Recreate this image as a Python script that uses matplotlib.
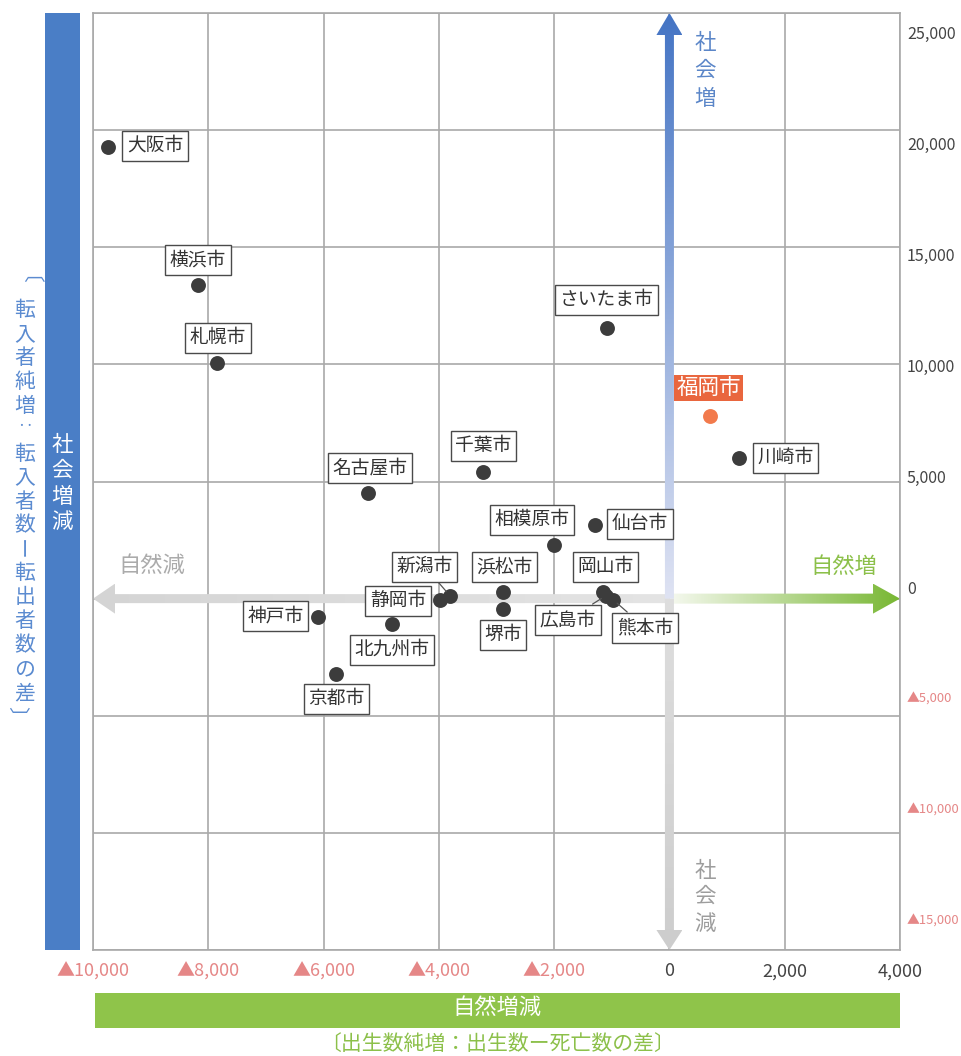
import numpy as np
import matplotlib
matplotlib.use("Agg")
import matplotlib.pyplot as plt
from matplotlib.patches import Polygon, Rectangle
from matplotlib.colors import to_rgb

plt.rcParams['font.family'] = ['Noto Sans CJK JP', 'DejaVu Sans']

# ---- data -------------------------------------------------------------
cities = ['大阪市', '横浜市', '札幌市', 'さいたま市', '名古屋市', '千葉市',
          '相模原市', '仙台市', '新潟市', '浜松市', '静岡市', '堺市',
          '北九州市', '京都市', '神戸市', '岡山市', '広島市', '熊本市',
          '福岡市', '川崎市']
natural_change = [-9740, -8180, -7850, -1080, -5230, -3230,
                  -2000, -1290, -3810, -2890, -3980, -2890,
                  -4810, -5780, -6100, -1150, -1100, -980,
                  700, 1210]
social_change = [19300, 13400, 10070, 11560, 4520, 5420,
                 2300, 3160, 130, 300, -40, -430,
                 -1070, -3200, -770, 300, 130, -40,
                 7810, 6020]
highlight = '福岡市'

x_ticks = [-10000, -8000, -6000, -4000, -2000, 0, 2000, 4000]
y_ticks = [-15000, -10000, -5000, 0, 5000, 10000, 15000, 20000, 25000]

# label placement: offset of each label box from its dot, in pixels (right, up)
label_offsets = {
    '大阪市': (47, 1), '横浜市': (0, 25), '札幌市': (1, 25),
    'さいたま市': (-1, 28), '名古屋市': (2, 25), '千葉市': (0, 26),
    '相模原市': (-22, 25), '仙台市': (45, 1), '新潟市': (-25, 29),
    '浜松市': (2, 25), '静岡市': (-42, -1), '堺市': (0, -26),
    '北九州市': (0, -26), '京都市': (0, -25), '神戸市': (-42, 1),
    '岡山市': (2, 25), '広島市': (-38, -24), '熊本市': (32, -28),
    '福岡市': (-1, 28), '川崎市': (46, 0),
}
leader_cities = {'新潟市', '広島市', '熊本市'}


def tick_text(v):
    return '0' if v == 0 else ('▲{:,}'.format(-v) if v < 0 else '{:,}'.format(v))


# ---- figure / axes ----------------------------------------------------
W, H = 961, 1056
fig = plt.figure(figsize=(W / 100, H / 100), dpi=100)
L, R, T, B = 93, 900, 13, 950
ax = fig.add_axes([L / W, 1 - B / H, (R - L) / W, (B - T) / H])
ax.set_xlim(x_ticks[0], x_ticks[-1])
ax.set_ylim(y_ticks[0], y_ticks[-1])

# pixel-space layer for the decorations around the plot (y grows downward)
deco = fig.add_axes([0, 0, 1, 1], zorder=-5)
deco.set_xlim(0, W)
deco.set_ylim(H, 0)
deco.axis('off')

GRID = '#a9a9a9'
ax.set_xticks(x_ticks)
ax.set_xticklabels([tick_text(v) for v in x_ticks])
ax.set_yticks(y_ticks)
ax.grid(True, color=GRID, lw=1.2)
ax.set_axisbelow(True)
ax.tick_params(axis='x', length=0, pad=9, labelsize=13)
ax.tick_params(axis='y', length=0, labelleft=False)
for lbl, v in zip(ax.get_xticklabels(), x_ticks):
    lbl.set_color('#e58787' if v < 0 else '#444444')
for s in ax.spines.values():
    s.set_color(GRID)
    s.set_linewidth(1.2)

# right-hand value scale
ax2 = ax.twinx()
ax2.set_ylim(-16350, 25860)
ax2.set_yticks(y_ticks)
ax2.set_yticklabels([tick_text(v) for v in y_ticks])
ax2.tick_params(axis='y', length=0, pad=5, labelsize=11.5)
for lbl, v in zip(ax2.get_yticklabels(), y_ticks):
    if v < 0:
        lbl.set_color('#e58787')
        lbl.set_fontsize(9.3)
    else:
        lbl.set_color('#444444')
for s in ax2.spines.values():
    s.set_visible(False)


def data_to_px(x, y):
    d = ax.transData.transform((x, y))
    return np.array([d[0], H - d[1]])


def px_to_data(pts):
    pts = np.asarray(pts, dtype=float)
    disp = np.column_stack([pts[:, 0], H - pts[:, 1]])
    return ax.transData.inverted().transform(disp)


def gradient_arrow(tail_d, tip_d, sw, hw, hl, c0, c1, z):
    tail = data_to_px(*tail_d)
    tip = data_to_px(*tip_d)
    vec = tip - tail
    length = np.hypot(*vec)
    u = vec / length
    n = np.array([-u[1], u[0]])
    neck = tip - u * hl
    pts = np.array([tail + n * sw / 2, neck + n * sw / 2, neck + n * hw / 2, tip,
                    neck - n * hw / 2, neck - n * sw / 2, tail - n * sw / 2])
    poly = Polygon(px_to_data(pts), closed=True, transform=ax.transData,
                   fc='none', ec='none')
    xmin, xmax = pts[:, 0].min(), pts[:, 0].max()
    ymin, ymax = pts[:, 1].min(), pts[:, 1].max()
    nx = max(int(xmax - xmin), 2)
    ny = max(int(ymax - ymin), 2)
    gx = np.linspace(xmin, xmax, nx)
    gy = np.linspace(ymax, ymin, ny)
    GX, GY = np.meshgrid(gx, gy)
    t = np.clip(((GX - tail[0]) * u[0] + (GY - tail[1]) * u[1]) / length, 0, 1)
    a, b = np.array(to_rgb(c0)), np.array(to_rgb(c1))
    img = a[None, None, :] * (1 - t[..., None]) + b[None, None, :] * t[..., None]
    (x0, y0), (x1, y1) = px_to_data([[xmin, ymax], [xmax, ymin]])
    im = ax.imshow(img, extent=(x0, x1, y0, y1), origin='lower', aspect='auto',
                   zorder=z, interpolation='bilinear')
    im.set_clip_path(poly)


# quadrant arrows through the origin
gradient_arrow((0, 0), (x_ticks[0], 0), 9, 30, 22, '#e4e4e4', '#d4d4d4', 1.0)
gradient_arrow((0, 0), (x_ticks[-1], 0), 10, 30, 27, '#f6f9f0', '#78b733', 1.1)
gradient_arrow((0, 0), (0, y_ticks[0]), 9, 26, 20, '#dedede', '#cdcdcd', 1.2)
gradient_arrow((0, 0), (0, y_ticks[-1]), 9, 26, 22, '#dfe3f3', '#4474c4', 1.3)
ax.set_xlim(x_ticks[0], x_ticks[-1])
ax.set_ylim(y_ticks[0], y_ticks[-1])


def ptext(x, y, s, **kw):
    ax.text(x, y, s, transform=deco.transData, ha='center', va='center',
            clip_on=False, zorder=2, **kw)


# vertical-writing forms: glyph drawn, rotation, pixel nudge (dx, dy), size scale
VERTICAL_FORMS = {
    '〔': ('〔', -90, -8, 0, 1.0),
    '〕': ('〕', -90, -9, 0, 1.0),
    '：': ('‥', 0, 0, -3, 0.75),
    'ー': ('ー', -90, -5, 0, 1.0),
}


def vtext(target, x, ys, chars, fontsize, **kw):
    # one character per line
    for y, c in zip(ys, chars):
        g, rot, dx, dy, sc = VERTICAL_FORMS.get(c, (c, 0, 0, 0, 1.0))
        if target is ax:
            ptext(x + dx, y + dy, g, rotation=rot, fontsize=fontsize * sc, **kw)
        else:
            deco.text(x + dx, y + dy, g, ha='center', va='center',
                      rotation=rot, fontsize=fontsize * sc, **kw)


vtext(ax, 705, [43, 71, 99], '社会増', 15.5, color='#5b86c8')
vtext(ax, 705, [871, 897, 924], '社会減', 15.5, color='#9d9d9d')
ptext(152, 565, '自然減', fontsize=16, color='#ababab')
ptext(844, 566, '自然増', fontsize=16, color='#8cc04a')

# ---- points and labels --------------------------------------------------
for name, xv, yv in zip(cities, natural_change, social_change):
    hl = name == highlight
    ax.scatter([xv], [yv], s=115, color='#f27a4c' if hl else '#3c3c3c',
               zorder=3, linewidths=0)
    dx, dy = label_offsets[name]
    if hl:
        box = dict(boxstyle='square,pad=0.1', fc='#e9663e', ec='none')
        kw = dict(fontsize=15.5, color='white')
    else:
        box = dict(boxstyle='square,pad=0.24', fc='white', ec='#4a4a4a', lw=1.0)
        kw = dict(fontsize=13.5, color='#333333')
    arrow = None
    if name in leader_cities:
        arrow = dict(arrowstyle='-', color='#555555', lw=0.9,
                     shrinkA=0, shrinkB=4)
    ax.annotate(name, xy=(xv, yv), xytext=(dx * 0.72, dy * 0.72),
                textcoords='offset points', ha='center', va='center',
                bbox=box, arrowprops=arrow, zorder=4, **kw)

# ---- side and bottom headings ------------------------------------------
deco.add_patch(Rectangle((45, 13), 35, 937, fc='#4a7ec6', ec='none'))
vtext(deco, 62, [445, 471, 497, 522], '社会増減', 15.5, color='white')

left_chars = list('〔転入者純増：転入者数ー転出者数の差〕')
left_ys = [285] + [310 + i * 23.94 for i in range(len(left_chars) - 2)] + [716]
vtext(deco, 25, left_ys, left_chars, 15, color='#5b8bd0')

deco.add_patch(Rectangle((95, 993), 805, 35, fc='#8fc44a', ec='none'))
deco.text(497, 1007, '自然増減', ha='center', va='center', fontsize=16,
          color='white')
deco.text(498, 1044, '〔出生数純増：出生数ー死亡数の差〕', ha='center',
          va='center', fontsize=15, color='#8cc04a')

fig.savefig('out.png', dpi=100, facecolor='white')
